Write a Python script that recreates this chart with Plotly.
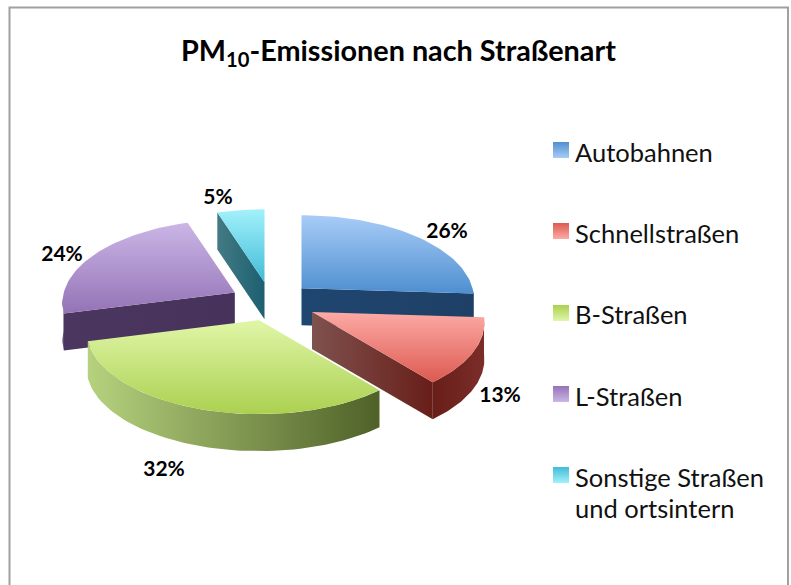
import numpy as np
import plotly.graph_objects as go

categories = ["Autobahnen", "Schnellstraßen", "B-Straßen", "L-Straßen", "Sonstige Straßen<br>und ortsintern"]
values = [26, 13, 32, 24, 5]

# --- styling / layout, separate from the data ---
FONT = "Lato, Carlito, Calibri, sans-serif"
CENTER = (271, 302)
RX, RY, PERSP, DEPTH = 171, 82.2, 0.126, 37
PULL = [0.25, 0.265, 0.225, 0.245, 0.25]
DRAW_ORDER = [4, 0, 3, 1, 2]
TOP_COL = [("#a8ccf7", "#4e8fd0"), ("#fdaaa6", "#dc5a50"), ("#e0f6a8", "#abd050"),
           ("#cbb6e6", "#9473b6"), ("#a2f1fb", "#42bbd7")]
CUT_COL = [("#1f4670", "#1f4066"), ("#7f524e", "#681e19"), ("#4f6128", "#4f6128"),
           ("#4a365e", "#46325a"), ("#437a84", "#1c6070")]
ARC_COL = [("#1f4066", "#1f4066"), ("#681e19", "#7b2d29"), ("#b6d27e", "#4f6128"),
           ("#48345c", "#48345c"), ("#1c6070", "#1c6070")]
LABEL_POS = [(447, 233), (500, 397), (164, 471), (62, 256), (218, 199)]
LEGEND_X, LEGEND_TEXT_X = 561, 575
LEGEND_Y = [150, 231, 313, 394, 475]
LEGEND_TEXT_Y = [152, 233, 314, 396, 477]


def project(gx, gy):
    """gx, gy: ground coordinates (unit radius, gy pointing away from the viewer)."""
    w = 1 + PERSP * np.asarray(gy)
    return RX * np.asarray(gx) / w, -RY * np.asarray(gy) / w


def poly(fig, x, y, c0, c1, kind):
    fig.add_trace(go.Scatter(
        x=x, y=y, mode="lines", line=dict(width=0), fill="toself",
        fillgradient=dict(type=kind, colorscale=[[0, c0], [1, c1]]),
        hoverinfo="skip", showlegend=False))


fig = go.Figure()
total = sum(values)
edges = np.cumsum([0] + values) / total * 2 * np.pi

for i in DRAW_ORDER:
    a0, a1 = edges[i], edges[i + 1]
    mid = (a0 + a1) / 2
    px, py = project(PULL[i] * np.sin(mid), PULL[i] * np.cos(mid))
    ax, ay = CENTER[0] + px, CENTER[1] + py   # apex of the exploded slice
    t = np.linspace(a0, a1, 60)
    lx, ly = project(np.sin(t), np.cos(t))
    rimx, rimy = ax + lx, ay + ly

    # radial cut faces that look towards the viewer
    for ang, visible in ((a0, np.sin(a0) < -1e-6), (a1, np.sin(a1) > 1e-6)):
        if visible:
            ex, ey = project(np.sin(ang), np.cos(ang))
            ex, ey = ax + ex, ay + ey
            xs = [ax, ex, ex, ax, ax]
            ys = [ay, ey, ey + DEPTH, ay + DEPTH, ay]
            poly(fig, xs, ys, CUT_COL[i][0], CUT_COL[i][1], "horizontal")

    # outer wall, front half only
    front = np.cos(t) < 0
    if front.any():
        xs = np.concatenate([rimx[front], rimx[front][::-1], rimx[front][:1]])
        ys = np.concatenate([rimy[front], rimy[front][::-1] + DEPTH, rimy[front][:1]])
        poly(fig, xs, ys, ARC_COL[i][0], ARC_COL[i][1], "horizontal")

    # top face (the y axis is reversed, so the gradient runs bottom colour first)
    xs = np.concatenate([[ax], rimx, [ax]])
    ys = np.concatenate([[ay], rimy, [ay]])
    poly(fig, xs, ys, TOP_COL[i][1], TOP_COL[i][0], "vertical")

# value labels
fig.add_trace(go.Scatter(
    x=[p[0] for p in LABEL_POS], y=[p[1] for p in LABEL_POS], mode="text",
    text=[f"<b>{v}%</b>" for v in values], textposition="middle center",
    textfont=dict(family=FONT, size=21, color="#000000"),
    hoverinfo="skip", showlegend=False))

# legend swatches
for i, name in enumerate(categories):
    fig.add_trace(go.Scatter(
        x=[LEGEND_X], y=[LEGEND_Y[i]], mode="markers",
        marker=dict(symbol="square", size=16, color=TOP_COL[i][1], line=dict(width=0),
                    gradient=dict(type="vertical", color=TOP_COL[i][0])),
        hoverinfo="skip", showlegend=False))

# legend text
for i, name in enumerate(categories):
    for k, line in enumerate(name.split("<br>")):
        fig.add_annotation(x=LEGEND_TEXT_X, y=LEGEND_TEXT_Y[i] + k * 31, text=line, showarrow=False,
                           xanchor="left", yanchor="middle", xshift=-2,
                           font=dict(family=FONT, size=25.5, color="#111111"))

fig.add_annotation(x=398, y=52, text="<b>PM<sub>10</sub>-Emissionen nach Straßenart</b>",
                   showarrow=False, xanchor="center", yanchor="middle",
                   font=dict(family=FONT, size=28.8, color="#000000"))

fig.update_layout(
    width=791, height=585, margin=dict(l=0, r=0, t=0, b=0),
    paper_bgcolor="white", plot_bgcolor="white",
    xaxis=dict(range=[0, 791], visible=False, fixedrange=True),
    yaxis=dict(range=[585, 0], visible=False, fixedrange=True),
    shapes=[dict(type="rect", x0=9.5, y0=7.5, x1=788, y1=600, line=dict(color="#a0a0a0", width=2),
                 fillcolor="rgba(0,0,0,0)", layer="below")],
)
fig.write_html("out.html", config={"displayModeBar": False},
               post_script="document.body.style.margin='0';document.body.style.overflow='hidden';")
